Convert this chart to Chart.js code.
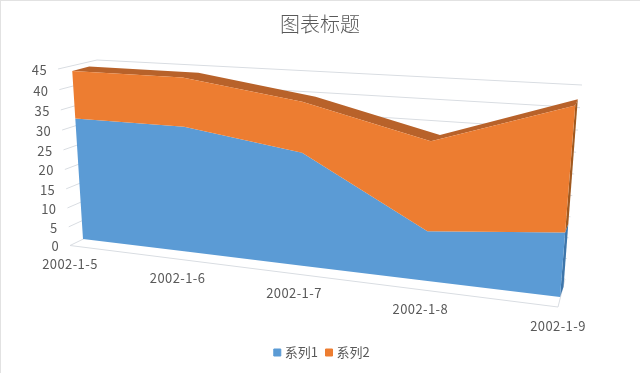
<!DOCTYPE html>
<html>
<head>
<meta charset="utf-8">
<script src="https://cdn.jsdelivr.net/npm/chart.js@4/dist/chart.umd.min.js"></script>
<style>
  body { margin: 0; background: #fff; }
  canvas { display: block; }
</style>
</head>
<body>
<canvas id="areaChart" width="640" height="373"></canvas>
<script>
const categories = ['2002-1-5', '2002-1-6', '2002-1-7', '2002-1-8', '2002-1-9'];
const series1 = [32, 32, 28, 12, 15];
const series2 = [12, 12, 12, 21, 28];
const valueTicks = [0, 5, 10, 15, 20, 25, 30, 35, 40, 45];

// 3D look: each plane is a quad on the page, corners are
// [u0 v0, u1 v0, u1 v1, u0 v1]. Everything is projected onto one of them.
const frontFace = [[83, 239], [560, 297], [576, 96], [72, 67]];
const backFace = [[98, 235], [563.5, 287], [578.5, 90], [89, 62.6]];
const backWall = [[106, 228], [565, 279], [582, 85], [97, 60]];
const frontEdge = [[70, 245.5], [558, 307], [577, 101], [58, 69]];

const textFont = "'Noto Sans CJK SC', 'Noto Sans', sans-serif";

function makeProjection(q) {
  const dx1 = q[1][0] - q[2][0], dx2 = q[3][0] - q[2][0], dx3 = q[0][0] - q[1][0] + q[2][0] - q[3][0];
  const dy1 = q[1][1] - q[2][1], dy2 = q[3][1] - q[2][1], dy3 = q[0][1] - q[1][1] + q[2][1] - q[3][1];
  const den = dx1 * dy2 - dx2 * dy1;
  const g = (dx3 * dy2 - dx2 * dy3) / den;
  const h = (dx1 * dy3 - dx3 * dy1) / den;
  const a = q[1][0] - q[0][0] + g * q[1][0], b = q[3][0] - q[0][0] + h * q[3][0];
  const d = q[1][1] - q[0][1] + g * q[1][1], e = q[3][1] - q[0][1] + h * q[3][1];
  return (u, v) => {
    const w = g * u + h * v + 1;
    return { x: (a * u + b * v + q[0][0]) / w, y: (d * u + e * v + q[0][1]) / w };
  };
}

const toFront = makeProjection(frontFace);
const toBack = makeProjection(backFace);
const toWall = makeProjection(backWall);
const toEdge = makeProjection(frontEdge);

function fillPoly(ctx, pts, color) {
  ctx.beginPath();
  pts.forEach((p, i) => i ? ctx.lineTo(p.x, p.y) : ctx.moveTo(p.x, p.y));
  ctx.closePath();
  ctx.fillStyle = color;
  ctx.fill();
}

function strokeLine(ctx, a, b, color) {
  ctx.beginPath();
  ctx.moveTo(a.x, a.y);
  ctx.lineTo(b.x, b.y);
  ctx.strokeStyle = color;
  ctx.lineWidth = 1;
  ctx.stroke();
}

const area3d = {
  id: 'area3d',
  afterLayout(chart) {
    // legend sits a little right of centre in the original
    chart.legend.left += 3;
    chart.legend.right += 3;
  },
  beforeDatasetsDraw(chart) {
    const ctx = chart.ctx;
    const area = chart.chartArea;
    const yScale = chart.scales.y;
    const xScale = chart.scales.x;
    const unitU = px => (px - area.left) / area.width;
    const unitV = py => (area.bottom - py) / area.height;
    const last = categories.length - 1;

    ctx.save();

    // page edge
    ctx.fillStyle = '#e2e2e2';
    ctx.fillRect(0, 0, 640, 1);
    ctx.fillRect(0, 0, 1, 373);

    // walls and floor
    const gridColor = '#d9dde2';
    yScale.ticks.forEach(t => {
      const v = unitV(yScale.getPixelForValue(t.value));
      strokeLine(ctx, toWall(0, v), toWall(1, v), gridColor);
      strokeLine(ctx, toEdge(0, v), toWall(0, v), gridColor);
    });
    strokeLine(ctx, toEdge(0, 0), toEdge(1, 0), gridColor);
    strokeLine(ctx, toEdge(1, 0), toWall(1, 0), gridColor);

    // stack layers, bottom first
    const base = categories.map((c, i) => ({ u: unitU(xScale.getPixelForValue(i)), v: 0 }));
    const layers = [base].concat(chart.data.datasets.map((ds, d) =>
      chart.getDatasetMeta(d).data.map(p => ({ u: unitU(p.x), v: unitV(p.y) }))
    ));
    const topLayer = layers[layers.length - 1];

    // roof of the top series
    fillPoly(ctx, topLayer.map(p => toFront(p.u, p.v)).concat(topLayer.slice().reverse().map(p => toBack(p.u, p.v))), '#b8622a');

    // right end of the solid
    const sideColors = ['#3e76aa', '#a0591f'];
    chart.data.datasets.forEach((ds, d) => {
      const lo = layers[d][last], hi = layers[d + 1][last];
      fillPoly(ctx, [toFront(lo.u, lo.v), toBack(lo.u, lo.v), toBack(hi.u, hi.v), toFront(hi.u, hi.v)], sideColors[d]);
    });

    // front faces
    chart.data.datasets.forEach((ds, d) => {
      const lower = layers[d].map(p => toFront(p.u, p.v));
      const upper = layers[d + 1].map(p => toFront(p.u, p.v));
      fillPoly(ctx, lower.concat(upper.reverse()), ds.backgroundColor);
    });

    // tick labels
    ctx.fillStyle = '#595959';
    ctx.font = '13px ' + textFont;
    ctx.letterSpacing = '0.4px';
    ctx.textBaseline = 'middle';
    ctx.textAlign = 'right';
    yScale.ticks.forEach(t => {
      const p = toEdge(0, unitV(yScale.getPixelForValue(t.value)));
      ctx.fillText(String(t.value), p.x - 11, p.y + 1);
    });
    ctx.textAlign = 'center';
    categories.forEach((label, i) => {
      const p = toEdge(unitU(xScale.getPixelForValue(i)), 0);
      ctx.fillText(label, p.x, p.y + 19);
    });

    ctx.restore();
  }
};

new Chart(document.getElementById('areaChart'), {
  type: 'line',
  data: {
    labels: categories,
    datasets: [
      { label: '系列1', data: series1, backgroundColor: '#5b9bd5', borderColor: '#5b9bd5', pointStyle: 'rect', showLine: false, pointRadius: 0 },
      { label: '系列2', data: series2, backgroundColor: '#ed7d31', borderColor: '#ed7d31', pointStyle: 'rect', showLine: false, pointRadius: 0 }
    ]
  },
  options: {
    responsive: false,
    animation: false,
    events: [],
    layout: { padding: { left: 54, right: 54, top: 4, bottom: 4 } },
    scales: {
      x: { display: false },
      y: {
        display: false,
        stacked: true,
        min: 0,
        max: 45,
        afterBuildTicks: scale => { scale.ticks = valueTicks.map(v => ({ value: v })); }
      }
    },
    plugins: {
      tooltip: { enabled: false },
      title: {
        display: true,
        text: '图表标题',
        color: '#595959',
        font: { family: textFont, size: 20, weight: 300 },
        padding: { top: 8, bottom: 10 }
      },
      legend: {
        position: 'bottom',
        labels: {
          color: '#595959',
          usePointStyle: true,
          boxWidth: 2,
          boxHeight: 7,
          padding: 10,
          font: { family: textFont, size: 13 }
        }
      }
    }
  },
  plugins: [area3d]
});
</script>
</body>
</html>
